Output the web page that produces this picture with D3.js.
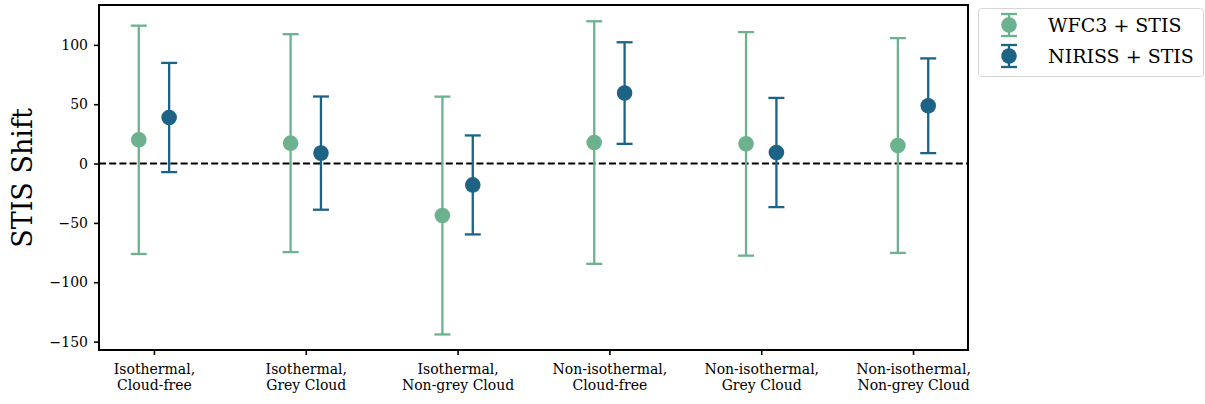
<!DOCTYPE html>
<html>
<head>
<meta charset="utf-8">
<title>STIS Shift</title>
<script src="https://cdn.jsdelivr.net/npm/d3@7"></script>
<style>
  body { margin: 0; background: white; }
  text { font-family: "DejaVu Serif", "Liberation Serif", serif; }
</style>
</head>
<body>
<script>
// categories (two-line labels)
var categories = [
  ["Isothermal,", "Cloud-free"],
  ["Isothermal,", "Grey Cloud"],
  ["Isothermal,", "Non-grey Cloud"],
  ["Non-isothermal,", "Cloud-free"],
  ["Non-isothermal,", "Grey Cloud"],
  ["Non-isothermal,", "Non-grey Cloud"]
];
// WFC3 + STIS
var wfc3Values = [20, 17.2, -43.8, 17.7, 16.6, 15.2];
var wfc3Errors = [96.2, 91.8, 100.2, 102.2, 94.2, 90.5];
// NIRISS + STIS
var nirissValues = [38.8, 8.8, -18, 59.4, 9.3, 48.7];
var nirissErrors = [46, 47.7, 41.7, 42.8, 46, 39.9];

var yTicks = [-150, -100, -50, 0, 50, 100];

var width = 1205, height = 404;
var plotLeft = 99, plotRight = 968, plotTop = 5, plotBottom = 350;

var svg = d3.select("body").append("svg")
  .attr("width", width)
  .attr("height", height);

var xScale = d3.scaleLinear()
  .domain([-0.362, 5.362])
  .range([plotLeft, plotRight]);

var yScale = d3.scaleLinear()
  .domain([-157.1, 133.6])
  .range([plotBottom, plotTop]);

var series = [
  { name: "WFC3 + STIS", values: wfc3Values, errors: wfc3Errors, color: "#6cb28f", offset: -0.1 },
  { name: "NIRISS + STIS", values: nirissValues, errors: nirissErrors, color: "#1d6386", offset: 0.1 }
];

// zero line
svg.append("line")
  .attr("x1", plotLeft).attr("x2", plotRight)
  .attr("y1", yScale(0)).attr("y2", yScale(0))
  .attr("stroke", "black")
  .attr("stroke-width", 2)
  .attr("stroke-dasharray", "7,3.2");

// error bars + points
series.forEach(function(s) {
  var g = svg.append("g");
  var rows = s.values.map(function(v, i) { return { i: i, v: v, e: s.errors[i] }; });
  var bars = g.selectAll(".bar").data(rows).enter().append("g");
  bars.append("line")
    .attr("x1", function(d) { return xScale(d.i + s.offset); })
    .attr("x2", function(d) { return xScale(d.i + s.offset); })
    .attr("y1", function(d) { return yScale(d.v - d.e); })
    .attr("y2", function(d) { return yScale(d.v + d.e); })
    .attr("stroke", s.color).attr("stroke-width", 2.3);
  [-1, 1].forEach(function(sign) {
    bars.append("line")
      .attr("x1", function(d) { return xScale(d.i + s.offset) - 8; })
      .attr("x2", function(d) { return xScale(d.i + s.offset) + 8; })
      .attr("y1", function(d) { return yScale(d.v + sign * d.e); })
      .attr("y2", function(d) { return yScale(d.v + sign * d.e); })
      .attr("stroke", s.color).attr("stroke-width", 2.3);
  });
  bars.append("circle")
    .attr("cx", function(d) { return xScale(d.i + s.offset); })
    .attr("cy", function(d) { return yScale(d.v); })
    .attr("r", 7.8)
    .attr("fill", s.color);
});

// axes
var yAxis = svg.append("g")
  .attr("transform", "translate(" + plotLeft + ",0)")
  .call(d3.axisLeft(yScale).tickValues(yTicks).tickSize(5).tickPadding(6)
    .tickFormat(function(d) { return d < 0 ? "\u2212" + Math.abs(d) : d; }));
yAxis.select(".domain").remove();
yAxis.selectAll(".tick line").attr("stroke-width", 1.6);
yAxis.selectAll(".tick text").style("font-size", "14px").style("font-family", "'DejaVu Serif', serif");

var xAxis = svg.append("g")
  .attr("transform", "translate(0," + plotBottom + ")")
  .call(d3.axisBottom(xScale).tickValues(d3.range(categories.length)).tickSize(5).tickFormat(""));
xAxis.select(".domain").remove();
xAxis.selectAll(".tick line").attr("stroke-width", 1.6);
xAxis.selectAll(".tick").each(function(d) {
  var t = d3.select(this).append("text")
    .attr("fill", "black")
    .attr("text-anchor", "middle")
    .style("font-size", "14px");
  categories[d].forEach(function(line, k) {
    t.append("tspan").attr("x", 0).attr("y", 24 + k * 16).text(line);
  });
});

// frame
svg.append("rect")
  .attr("x", plotLeft).attr("y", plotTop)
  .attr("width", plotRight - plotLeft).attr("height", plotBottom - plotTop)
  .attr("fill", "none").attr("stroke", "black").attr("stroke-width", 2);

// y label
svg.append("text")
  .attr("transform", "translate(32," + 178 + ") rotate(-90)")
  .attr("text-anchor", "middle")
  .style("font-size", "27px")
  .text("STIS Shift");

// legend
var legend = svg.append("g");
legend.append("rect")
  .attr("x", 978.5).attr("y", 8.5).attr("width", 225).attr("height", 68).attr("rx", 3)
  .attr("fill", "white").attr("stroke", "#d6d6d6").attr("stroke-width", 1);
series.forEach(function(s, i) {
  var cy = 25 + i * 31;
  var row = legend.append("g");
  row.append("line").attr("x1", 1009).attr("x2", 1009).attr("y1", cy - 11).attr("y2", cy + 11)
    .attr("stroke", s.color).attr("stroke-width", 2.3);
  row.append("line").attr("x1", 1001).attr("x2", 1017).attr("y1", cy - 11).attr("y2", cy - 11)
    .attr("stroke", s.color).attr("stroke-width", 2.3);
  row.append("line").attr("x1", 1001).attr("x2", 1017).attr("y1", cy + 11).attr("y2", cy + 11)
    .attr("stroke", s.color).attr("stroke-width", 2.3);
  row.append("circle").attr("cx", 1009).attr("cy", cy).attr("r", 7.8).attr("fill", s.color);
  row.append("text").attr("x", 1048).attr("y", cy + 7)
    .style("font-size", "19px")
    .text(s.name);
});
</script>
</body>
</html>
